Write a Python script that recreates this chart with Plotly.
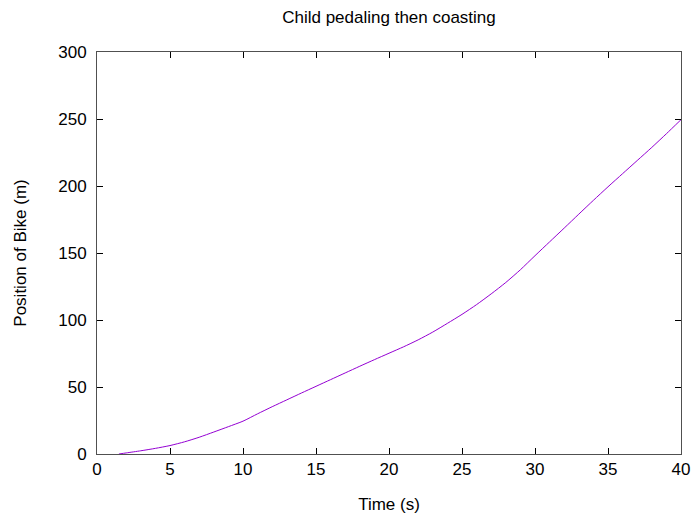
import plotly.graph_objects as go

time_s = [1.5, 2, 3, 4, 5, 6, 7, 8, 9, 10, 11, 12, 13, 14, 15, 16, 17, 18, 19, 20,
          21, 22, 23, 24, 25, 26, 27, 28, 29, 30, 31, 32, 33, 34, 35, 36, 37, 38, 39, 40]
position_m = [0, 0.8, 2.4, 4.2, 6.3, 9.1, 12.5, 16.4, 20.4, 24.5, 30, 35.3, 40.4, 45.5, 50.5,
              55.5, 60.5, 65.5, 70.4, 75.2, 80, 85.2, 91, 97.5, 104.2, 111.5, 119.5, 128, 137.5, 148,
              158.3, 168.6, 179, 189.3, 199.4, 209.2, 219, 228.8, 239, 249.5]
x_ticks = [0, 5, 10, 15, 20, 25, 30, 35, 40]
y_ticks = [0, 50, 100, 150, 200, 250, 300]

FONT = "Liberation Sans, Arial, sans-serif"

fig = go.Figure()
fig.add_trace(go.Scatter(x=time_s, y=position_m, mode="lines", line_shape="spline",
                         line=dict(color="#9400d3", width=1, smoothing=0.6), showlegend=False))

axis_common = dict(showgrid=False, zeroline=False, showline=True, linecolor="#505050",
                   linewidth=1, mirror="ticks", ticks="inside", ticklen=6, tickcolor="#000000",
                   tickfont=dict(family=FONT, size=17, color="#000000"))

fig.update_layout(
    width=693, height=514,
    margin=dict(l=97, r=12, t=52, b=60, autoexpand=False),
    paper_bgcolor="white", plot_bgcolor="white",
    title=dict(text="Child pedaling then coasting", x=0.5, xref="paper", xanchor="center",
               y=1 - 17 / 514, yref="container", yanchor="middle",
               font=dict(family=FONT, size=17, color="#000000")),
    xaxis=dict(range=[0, 40], tickvals=x_ticks, ticktext=[str(v) for v in x_ticks],
               title=dict(text="Time (s)", font=dict(family=FONT, size=17, color="#000000"), standoff=20),
               **axis_common),
    yaxis=dict(range=[0, 300], tickvals=y_ticks, ticktext=[str(v) for v in y_ticks],
               title=dict(text="Position of Bike (m)", font=dict(family=FONT, size=17, color="#000000"), standoff=27),
               ticklabelstandoff=6,
               **axis_common),
)

fig.write_html("out.html")
